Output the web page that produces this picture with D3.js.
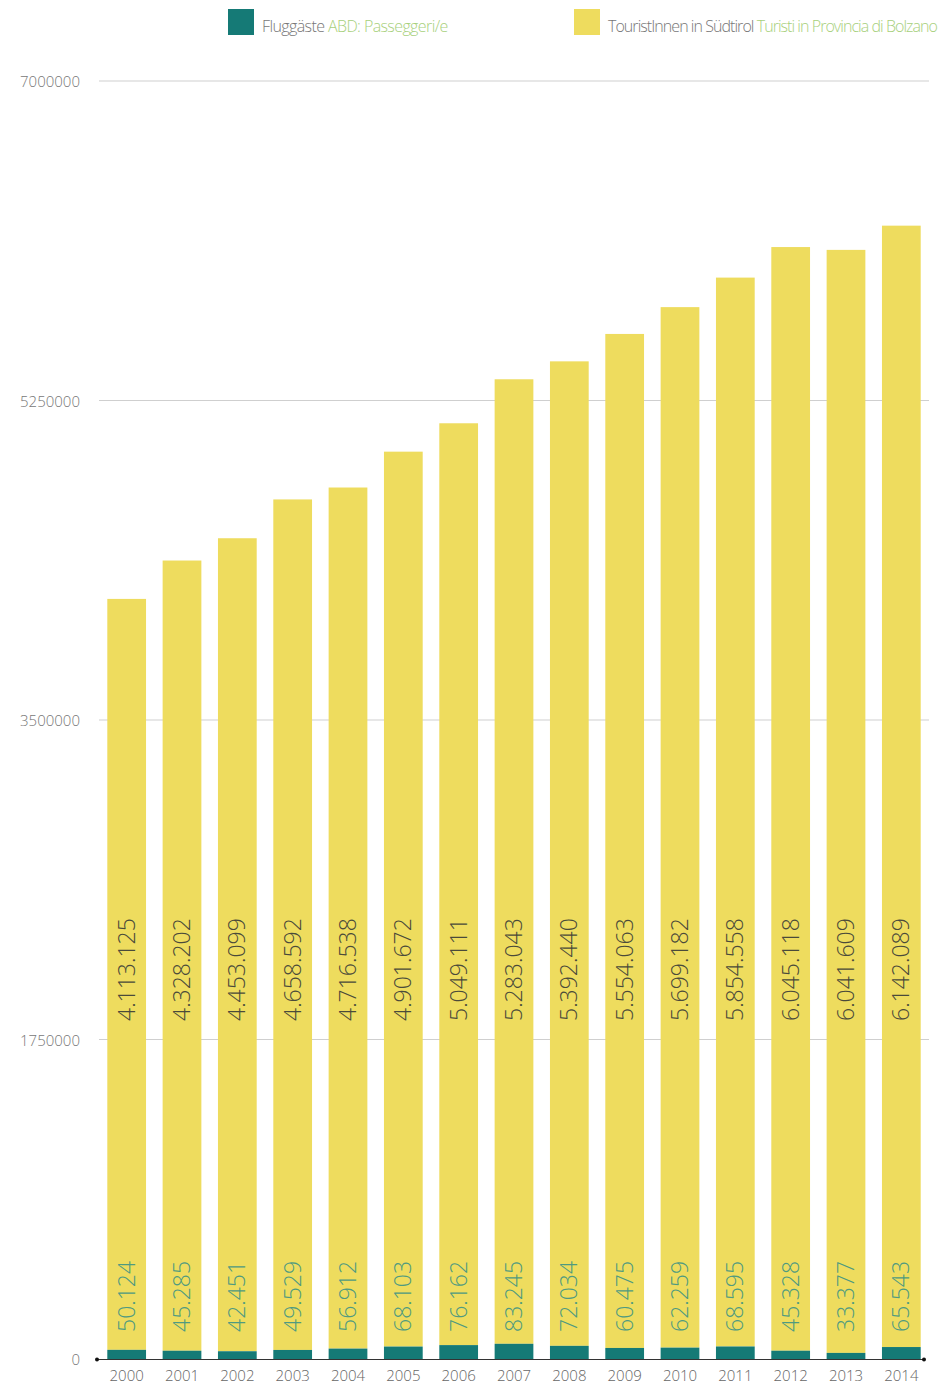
<!DOCTYPE html>
<html><head><meta charset="utf-8">
<script src="https://cdn.jsdelivr.net/npm/d3@7"></script>
<style>body{margin:0;background:#fff}svg{display:block;font-family:"Open Sans",sans-serif}</style>
</head><body><svg id="c" width="946" height="1385"></svg>
<script>
const years = ["2000","2001","2002","2003","2004","2005","2006","2007","2008","2009","2010","2011","2012","2013","2014"];
const passengers = [50124,45285,42451,49529,56912,68103,76162,83245,72034,60475,62259,68595,45328,33377,65543];
const tourists = [4113125,4328202,4453099,4658592,4716538,4901672,5049111,5283043,5392440,5554063,5699182,5854558,6045118,6041609,6142089];
const yTicks = [0,1750000,3500000,5250000,7000000];
const legendDe = ["Fluggäste","TouristInnen in Südtirol"];
const legendIt = ["ABD: Passeggeri/e","Turisti in Provincia di Bolzano"];
const colors = ["#157a76","#eedc5e"];

const svg = d3.select("#c");
const x = d3.scaleBand().domain(years).range([99,929]).paddingInner(0.3).paddingOuter(0.15);
const y = d3.scaleLinear().domain([0,7000000]).range([1359,81]);
const fmt = v => d3.format(",")(v).replace(/,/g,".");

// grid
svg.append("g").selectAll("line").data(yTicks.filter(d=>d>0)).join("line")
  .attr("x1",99).attr("x2",929).attr("y1",d=>y(d)).attr("y2",d=>y(d))
  .attr("stroke","#cfcfcf").attr("stroke-width",1);
svg.append("g").selectAll("text").data(yTicks).join("text")
  .attr("x",80).attr("y",d=>y(d)+6).attr("text-anchor","end")
  .attr("font-size",15).attr("font-weight",300).attr("fill","#777").text(d=>d);

// bars
const data = years.map((yr,i)=>({yr,p:passengers[i],t:tourists[i]}));
svg.append("g").selectAll("rect").data(data).join("rect")
  .attr("x",d=>x(d.yr)).attr("width",x.bandwidth())
  .attr("y",d=>y(d.p+d.t)).attr("height",d=>y(d.p)-y(d.p+d.t)).attr("fill",colors[1]);
svg.append("g").selectAll("rect").data(data).join("rect")
  .attr("x",d=>x(d.yr)).attr("width",x.bandwidth())
  .attr("y",d=>y(d.p)).attr("height",d=>y(0)-y(d.p)).attr("fill",colors[0]);

// value labels
svg.append("g").selectAll("text").data(data).join("text")
  .attr("transform",d=>`translate(${x(d.yr)+x.bandwidth()/2+8},1021) rotate(-90)`)
  .attr("font-size",23).attr("font-weight",300).attr("fill","#4a4a3a").text(d=>fmt(d.t));
svg.append("g").selectAll("text").data(data).join("text")
  .attr("transform",d=>`translate(${x(d.yr)+x.bandwidth()/2+8},1332) rotate(-90)`)
  .attr("font-size",23).attr("font-weight",300).attr("fill","#4f9a80").text(d=>fmt(d.p));

// x axis
svg.append("line").attr("x1",97).attr("x2",924).attr("y1",1359.5).attr("y2",1359.5).attr("stroke","#333").attr("stroke-width",1.2);
svg.append("circle").attr("cx",97).attr("cy",1359.5).attr("r",2).attr("fill","#111");
svg.append("circle").attr("cx",924).attr("cy",1359.5).attr("r",2).attr("fill","#111");
svg.append("g").selectAll("text").data(years).join("text")
  .attr("x",d=>x(d)+x.bandwidth()/2).attr("y",1381).attr("text-anchor","middle")
  .attr("font-size",15).attr("font-weight",300).attr("fill","#666").text(d=>d);

// legend
const lx = [228,574];
const ls = [-0.6,-0.95];
const lg = svg.append("g");
[0,1].forEach(i=>{
  lg.append("rect").attr("x",lx[i]).attr("y",9).attr("width",26).attr("height",26).attr("fill",colors[i]);
  const t = lg.append("text").attr("x",lx[i]+34).attr("y",32).attr("font-size",16).attr("font-weight",300).attr("letter-spacing",ls[i]);
  t.append("tspan").attr("fill","#777").text(legendDe[i]+" ");
  t.append("tspan").attr("fill","#a7d07c").text(legendIt[i]);
});
</script></body></html>
